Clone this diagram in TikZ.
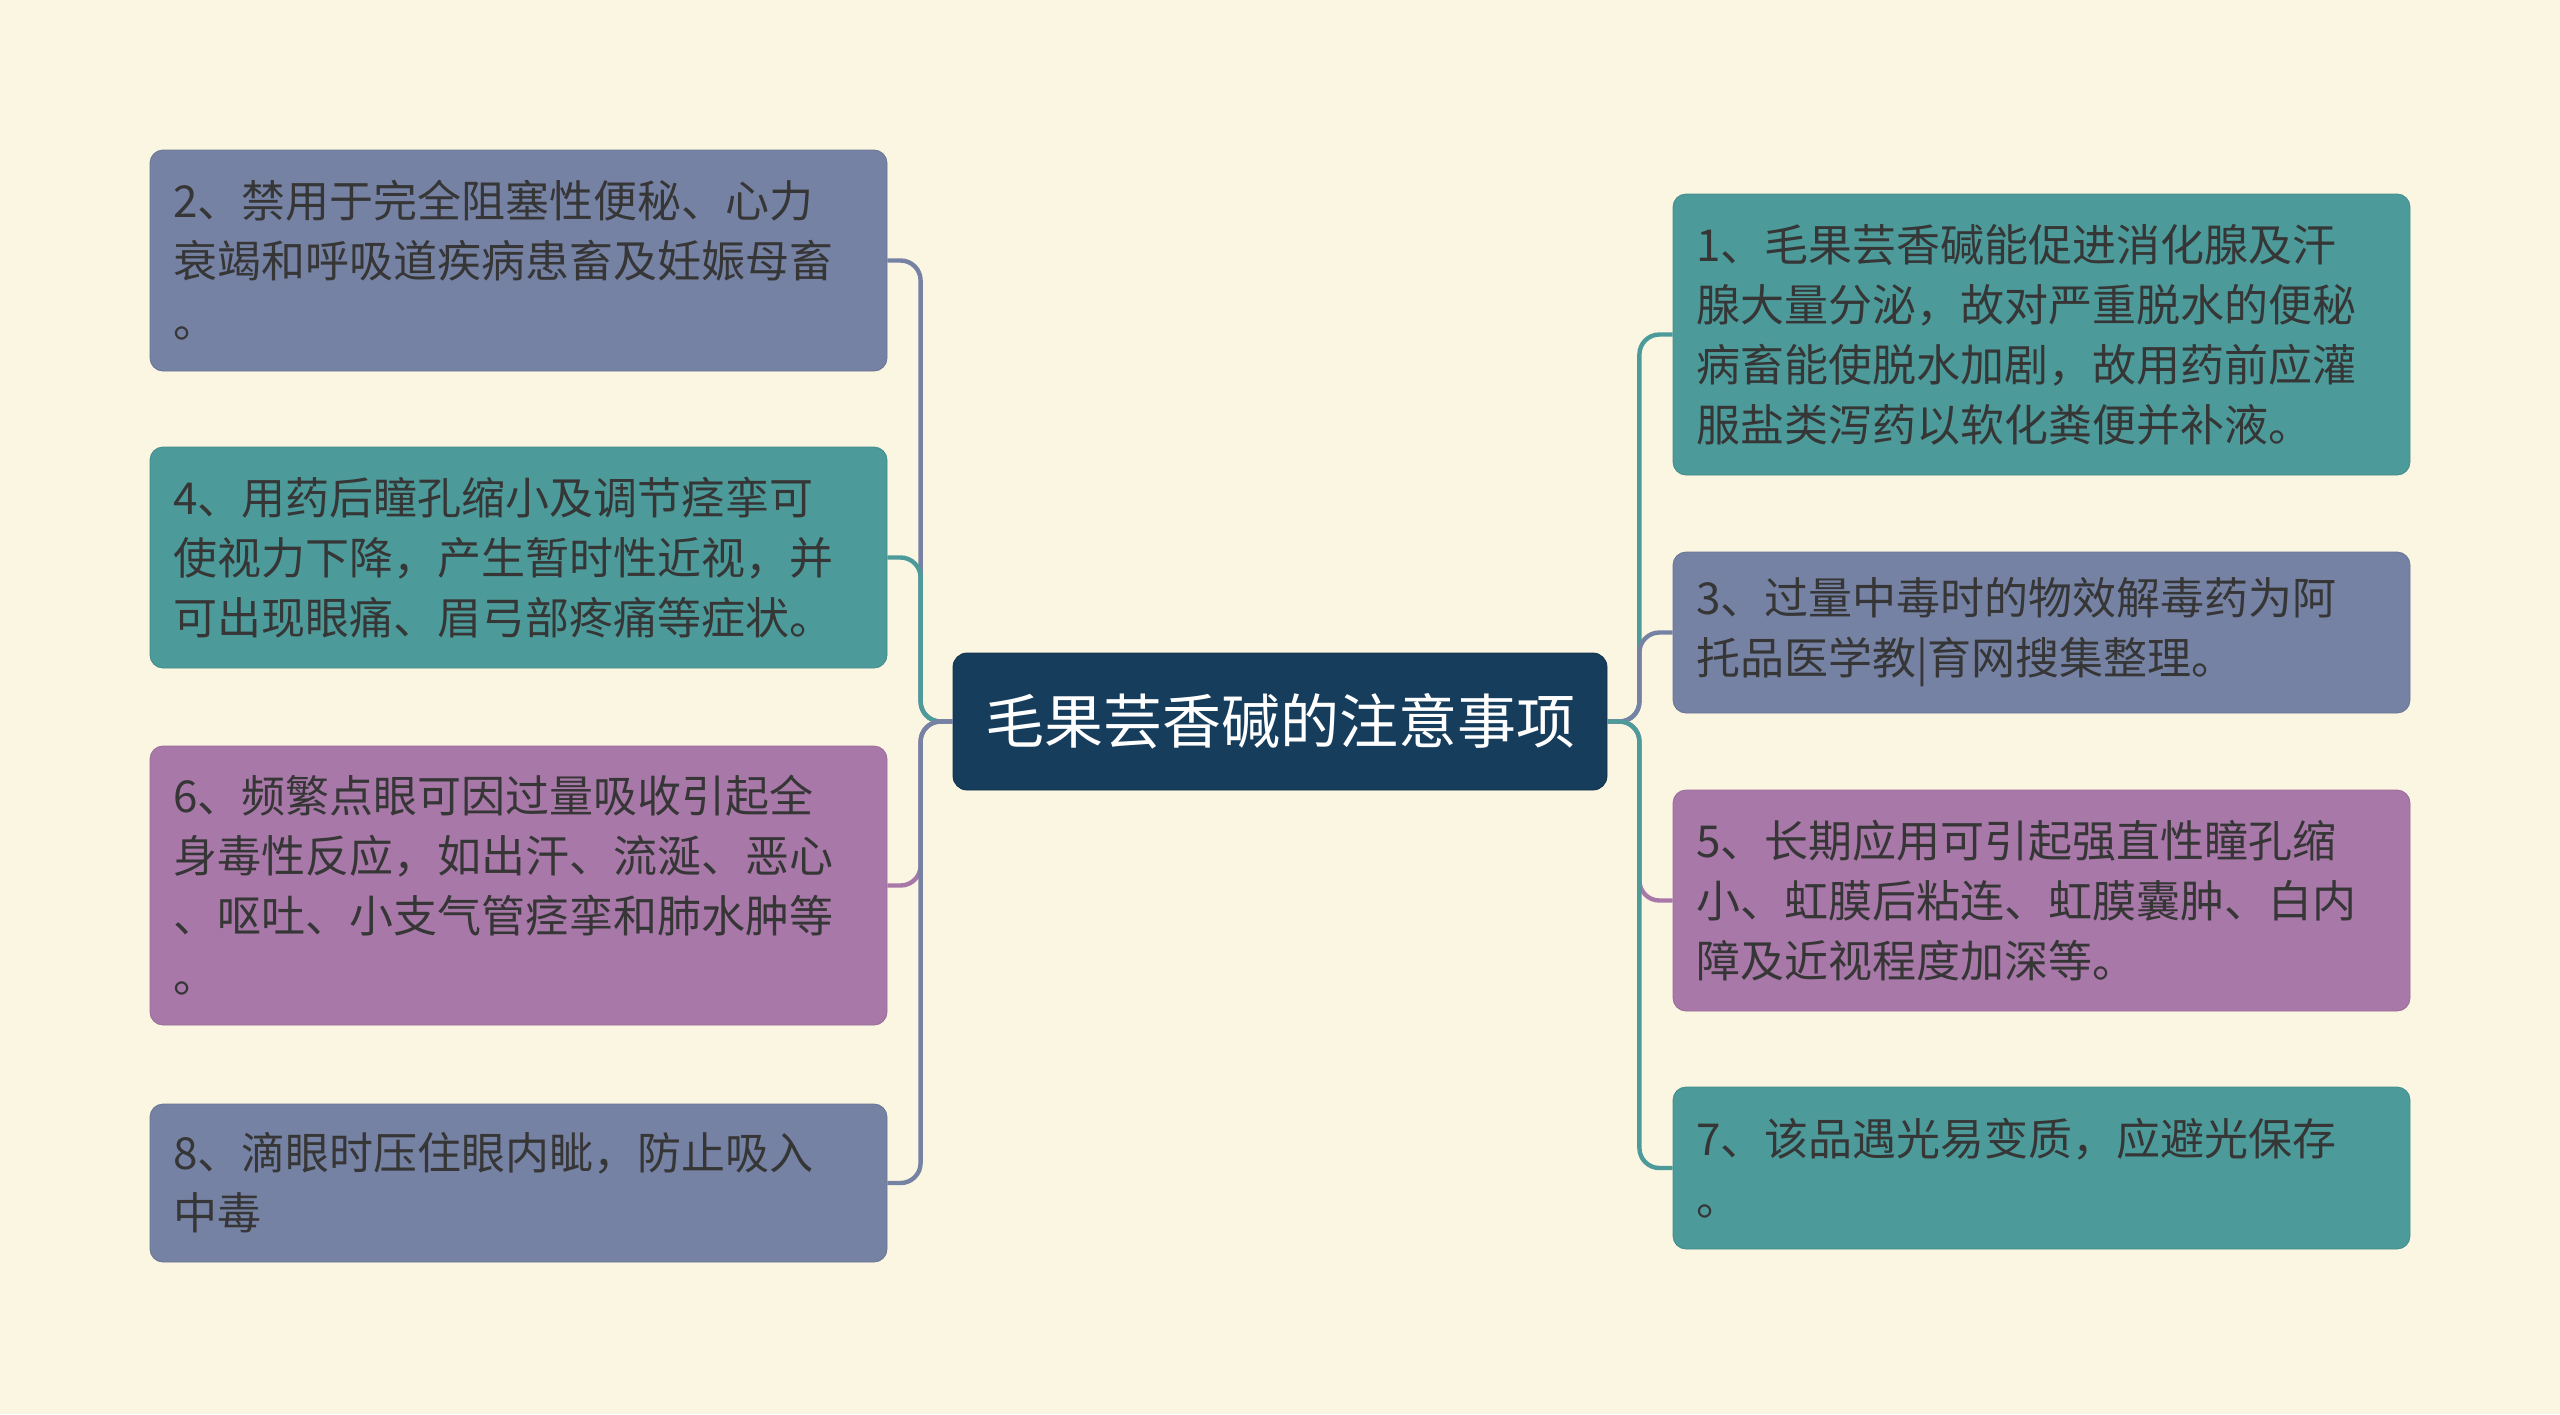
\documentclass[tikz,border=0pt]{standalone}
\usepackage{fontspec}
\newfontfamily\cjk{Noto Sans CJK SC}
\definecolor{bg}{HTML}{FBF6E2}
\definecolor{slate}{HTML}{7682A4}
\definecolor{teal2}{HTML}{4C9B9A}
\definecolor{purp}{HTML}{A878A9}
\definecolor{navy}{HTML}{173D5C}
\definecolor{txt}{HTML}{363636}
\tikzset{
  leaf/.style={rectangle, rounded corners=6.5pt, draw=#1!90!black, line width=0.4pt, fill=#1,
    text width=345.5pt, inner xsep=11.5pt, inner ysep=0pt, align=left,
    font=\cjk\fontsize{22}{30}\selectfont, text=txt},
  rootbox/.style={rectangle, rounded corners=7pt, fill=navy, draw=navy!80!black, line width=0.4pt,
    minimum width=327pt, minimum height=68.5pt, inner sep=0pt,
    font=\cjk\fontsize{29.5}{34}\selectfont, text=white},
  conn/.style={line width=2.2pt, rounded corners=10pt}
}
\begin{document}
\begin{tikzpicture}[x=0.5pt,y=-0.5pt]
\fill[bg] (0,0) rectangle (2560,1414);
\useasboundingbox (0,0) rectangle (2560,1414);

\node[rootbox] (root) at (1280,721.5) {毛果芸香碱的注意事项};

\node[leaf=slate, minimum height=110.5pt] (L1) at (518.5,260.5)
  {2、禁用于完全阻塞性便秘、心力\\衰竭和呼吸道疾病患畜及妊娠母畜\\。};
\node[leaf=teal2, minimum height=110.5pt] (L2) at (518.5,557.5)
  {4、用药后瞳孔缩小及调节痉挛可\\使视力下降，产生暂时性近视，并\\可出现眼痛、眉弓部疼痛等症状。};
\node[leaf=purp, minimum height=139.5pt] (L3) at (518.5,885.5)
  {6、频繁点眼可因过量吸收引起全\\身毒性反应，如出汗、流涎、恶心\\、呕吐、小支气管痉挛和肺水肿等\\。};
\node[leaf=slate, minimum height=79pt] (L4) at (518.5,1183)
  {8、滴眼时压住眼内眦，防止吸入\\中毒};

\node[leaf=teal2, minimum height=140.5pt] (R1) at (2041.5,334.5)
  {1、毛果芸香碱能促进消化腺及汗\\腺大量分泌，故对严重脱水的便秘\\病畜能使脱水加剧，故用药前应灌\\服盐类泻药以软化粪便并补液。};
\node[leaf=slate, minimum height=80.5pt] (R2) at (2041.5,632.5)
  {3、过量中毒时的物效解毒药为阿\\托品医学教|育网搜集整理。};
\node[leaf=purp, minimum height=110.5pt] (R3) at (2041.5,900.5)
  {5、长期应用可引起强直性瞳孔缩\\小、虹膜后粘连、虹膜囊肿、白内\\障及近视程度加深等。};
\node[leaf=teal2, minimum height=81pt] (R4) at (2041.5,1168)
  {7、该品遇光易变质，应避光保存\\。};

\draw[conn, slate] (root.west) -- ++(-16pt,0) |- (L1.east);
\draw[conn, teal2] (root.west) -- ++(-16pt,0) |- (L2.east);
\draw[conn, purp] (root.west) -- ++(-16pt,0) |- (L3.east);
\draw[conn, slate] (root.west) -- ++(-16pt,0) |- (L4.east);

\draw[conn, teal2] (root.east) -- ++(16pt,0) |- (R1.west);
\draw[conn, slate] (root.east) -- ++(16pt,0) |- (R2.west);
\draw[conn, purp] (root.east) -- ++(16pt,0) |- (R3.west);
\draw[conn, teal2] (root.east) -- ++(16pt,0) |- (R4.west);
\end{tikzpicture}
\end{document}
